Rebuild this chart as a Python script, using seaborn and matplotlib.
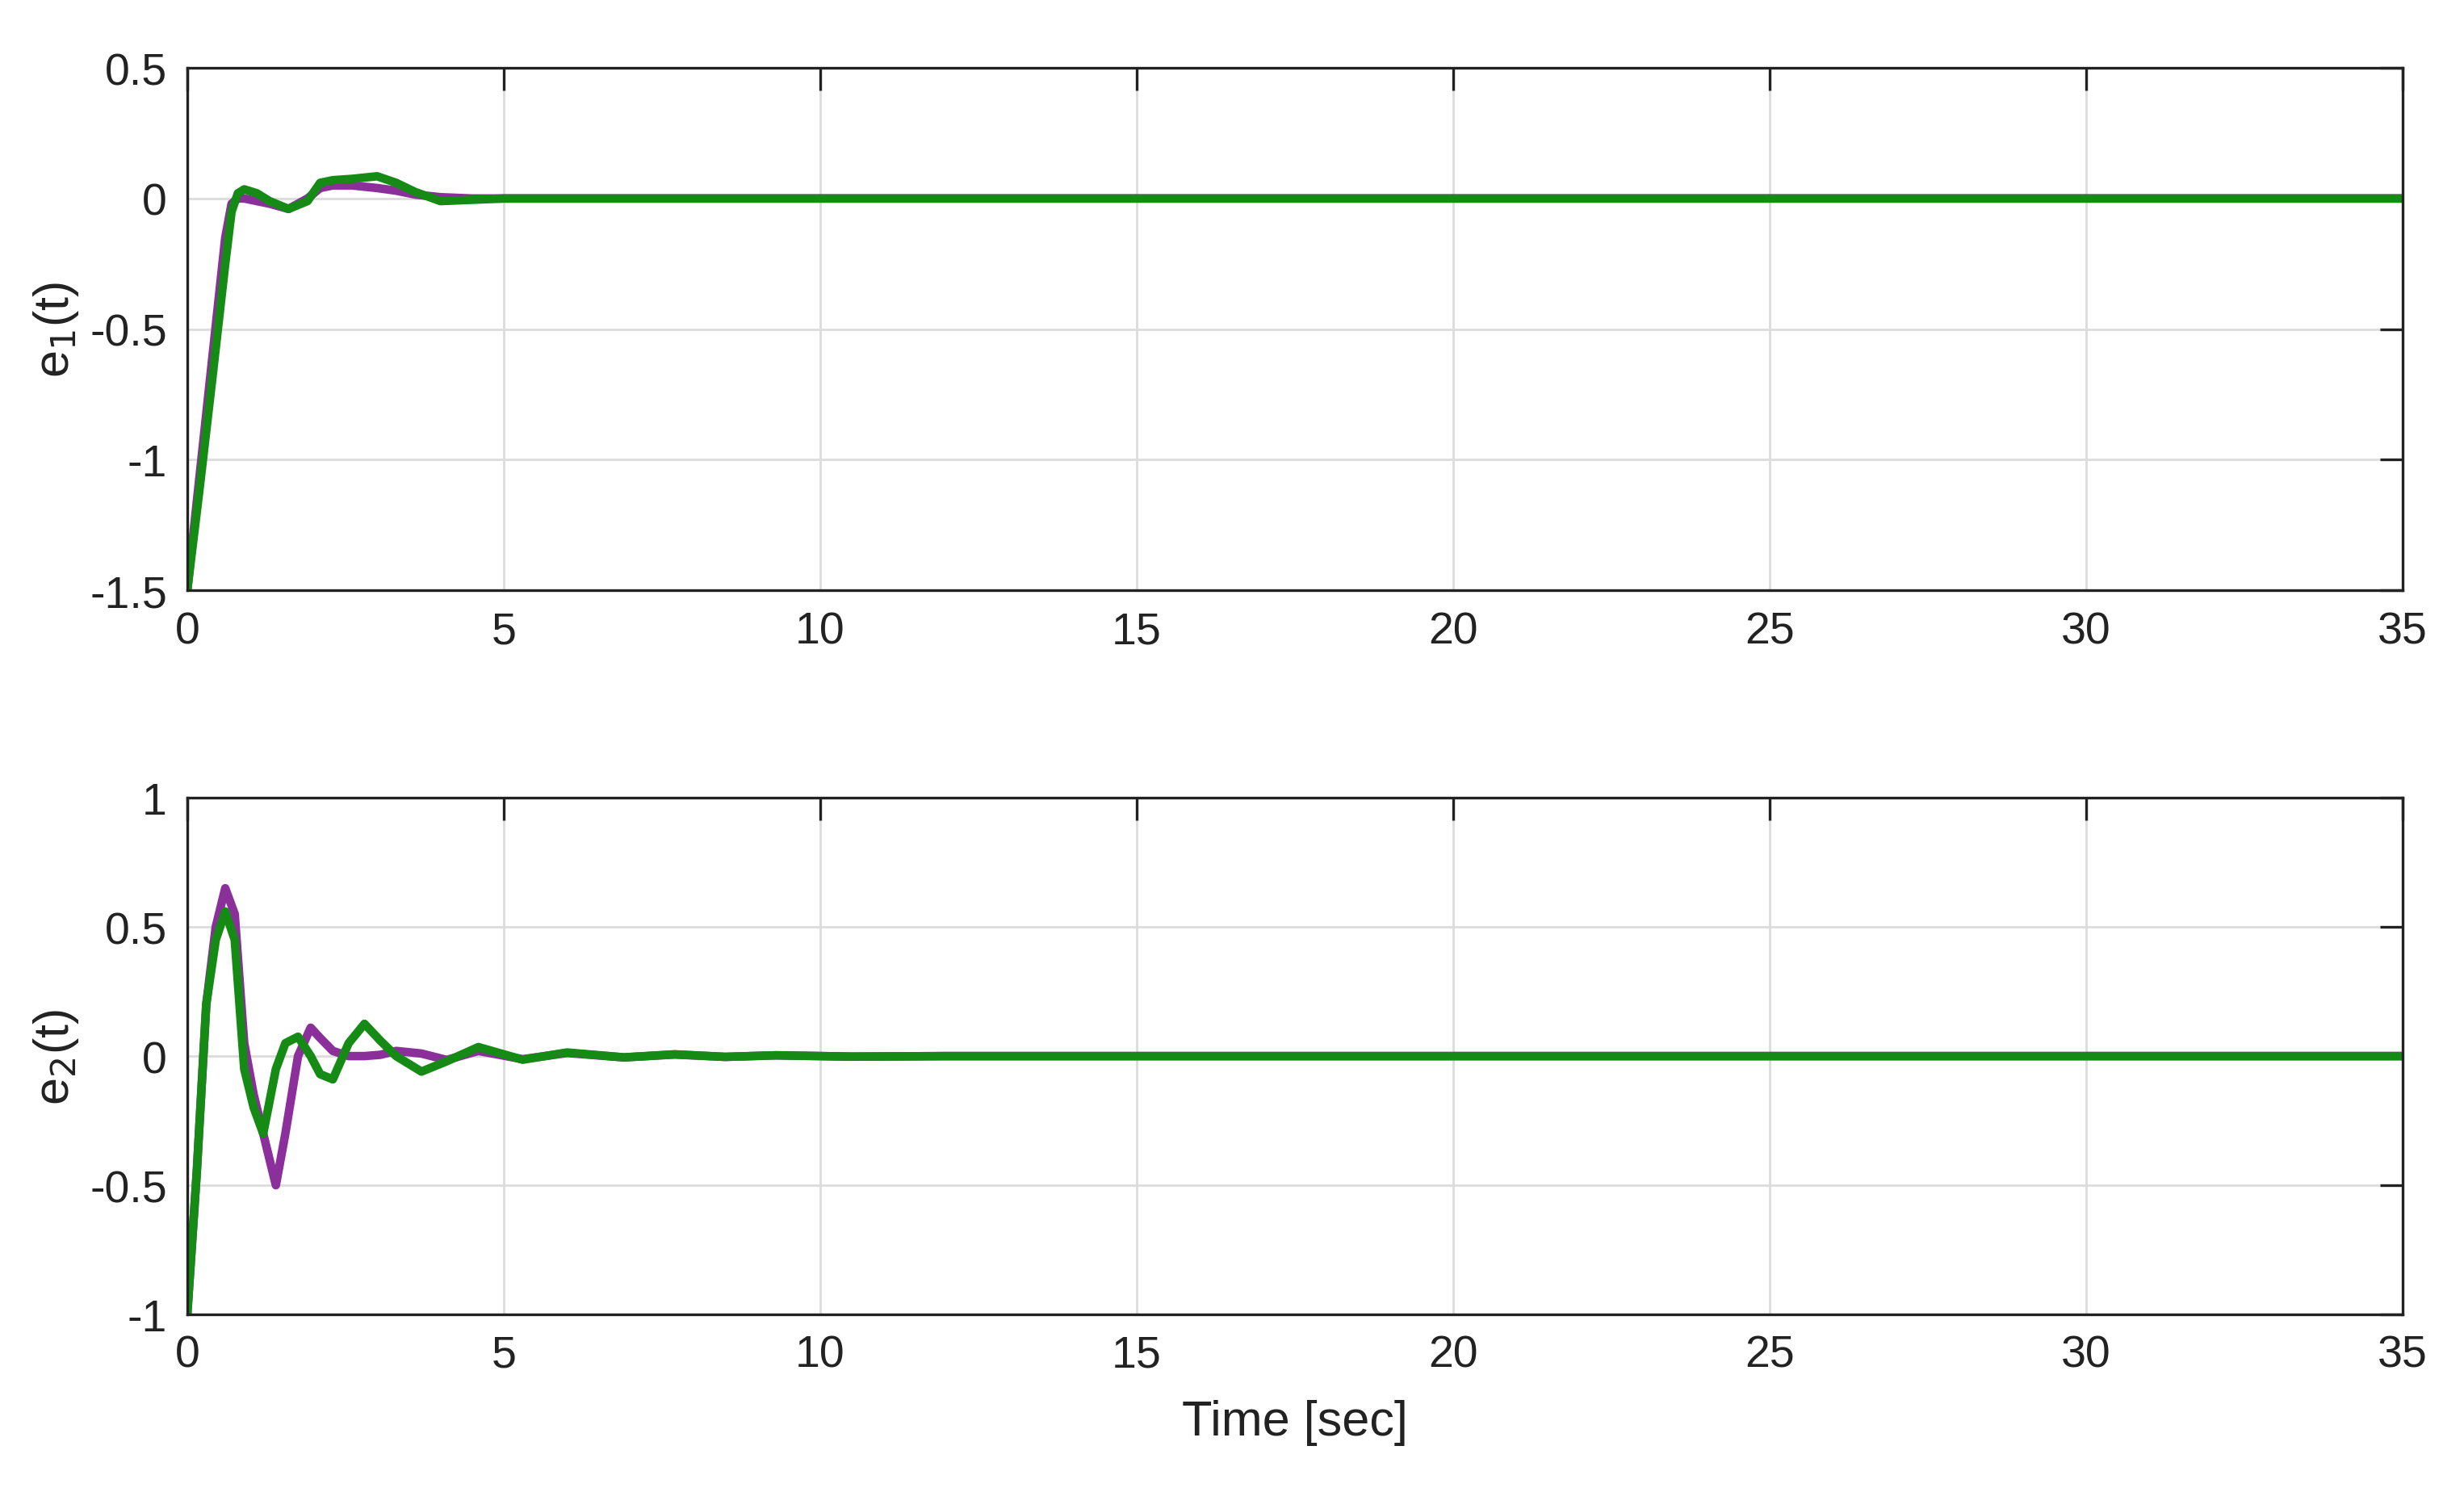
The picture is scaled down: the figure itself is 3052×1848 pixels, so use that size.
import numpy as np
import pandas as pd
import matplotlib
matplotlib.use("Agg")
import matplotlib.pyplot as plt
import seaborn as sns

# e1(t) readings
t1 = [0, 0.2, 0.4, 0.6, 0.7, 0.8, 0.9, 1.1, 1.3, 1.6, 1.9, 2.1, 2.3, 2.6, 3.0, 3.3, 3.6, 4.0, 4.5, 5.0, 6, 8, 35]
e1_purple = [-1.5, -1.05, -0.6, -0.15, -0.02, 0.0, 0.0, -0.01, -0.02, -0.04, 0.0, 0.04, 0.05, 0.05, 0.04, 0.03, 0.015, 0.005, 0.0, 0.0, 0.0, 0.0, 0.0]
e1_green = [-1.5, -1.1, -0.68, -0.25, -0.05, 0.02, 0.035, 0.02, -0.01, -0.04, -0.01, 0.06, 0.07, 0.075, 0.085, 0.06, 0.025, -0.01, -0.005, 0.0, 0.0, 0.0, 0.0]

# e2(t) readings
t2 = [0, 0.15, 0.3, 0.45, 0.6, 0.75, 0.9, 1.05, 1.2, 1.4, 1.55, 1.75, 1.95, 2.1, 2.3, 2.55, 2.8, 3.05, 3.3, 3.7, 4.1, 4.6, 5.3, 6.0, 6.9, 7.7, 8.5, 9.3, 10.5, 12, 35]
e2_purple = [-1.0, -0.45, 0.2, 0.5, 0.65, 0.55, 0.05, -0.15, -0.3, -0.5, -0.3, 0.0, 0.11, 0.07, 0.02, 0.0, 0.0, 0.005, 0.02, 0.01, -0.015, 0.02, -0.012, 0.012, -0.005, 0.006, -0.003, 0.003, -0.002, 0.0, 0.0]
e2_green = [-1.0, -0.45, 0.2, 0.45, 0.56, 0.45, -0.05, -0.2, -0.3, -0.05, 0.05, 0.075, 0.0, -0.07, -0.09, 0.05, 0.125, 0.06, 0.0, -0.06, -0.02, 0.035, -0.014, 0.014, -0.005, 0.007, -0.003, 0.003, -0.002, 0.0, 0.0]

xticks = [0, 5, 10, 15, 20, 25, 30, 35]
purple = "#8B2F9B"
green = "#158A15"

sns.set_theme(style="white")
plt.rcParams['font.family'] = ['Liberation Sans', 'DejaVu Sans']

fig = plt.figure(figsize=(15.26, 9.245), dpi=200)
ax1 = fig.add_axes([0.076, 0.604, 0.899, 0.350])
ax2 = fig.add_axes([0.076, 0.119, 0.899, 0.346])

def draw(ax, t, yp, yg, ylim, yticks, ylabel):
    sns.lineplot(x=t, y=yp, ax=ax, color=purple, lw=3.8, sort=False)
    sns.lineplot(x=t, y=yg, ax=ax, color=green, lw=3.8, sort=False)
    ax.set_xlim(0, 35)
    ax.set_ylim(*ylim)
    ax.set_xticks(xticks)
    ax.set_yticks(yticks)
    ax.set_yticklabels([f"{v:g}" for v in yticks])
    ax.grid(True, color="#dcdcdc", lw=1.0)
    ax.tick_params(direction="in", length=10, width=1.2, labelsize=20,
                   top=True, right=True, pad=9, colors="#222222")
    for s in ax.spines.values():
        s.set_color("#222222")
        s.set_linewidth(1.2)
    ax.set_ylabel(ylabel, fontsize=22, color="#222222")

draw(ax1, t1, e1_purple, e1_green, (-1.5, 0.5), [-1.5, -1, -0.5, 0, 0.5], r"e$_1$(t)")
draw(ax2, t2, e2_purple, e2_green, (-1, 1), [-1, -0.5, 0, 0.5, 1], r"e$_2$(t)")
ax2.set_xlabel("Time [sec]", fontsize=22, color="#222222", labelpad=10)

fig.savefig("out.png", dpi=200)
